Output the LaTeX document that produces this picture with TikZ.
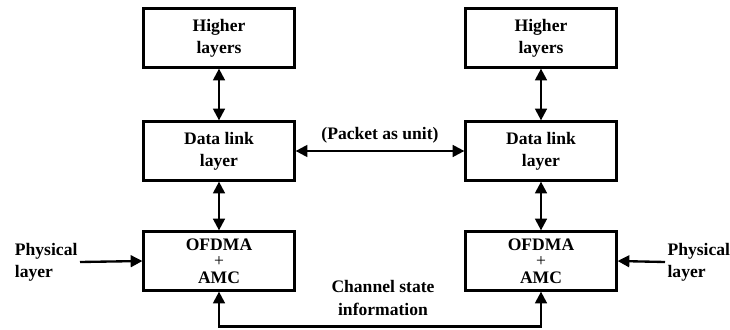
\documentclass[tikz,border=0pt]{standalone}
\usepackage{fontspec}
\setmainfont{Liberation Serif}
\usetikzlibrary{arrows.meta}

\begin{document}
\begin{tikzpicture}[x=0.03cm,y=0.03cm,
    layerbox/.style={draw,line width=2.2pt,minimum width=4.52cm,minimum height=1.76cm,align=center,font=\fontsize{15}{19}\selectfont\bfseries},
    txt/.style={align=center,font=\fontsize{15}{19}\selectfont\bfseries,inner sep=0pt},
    link/.style={line width=2pt,{Triangle[length=10pt,width=10pt]}-{Triangle[length=10pt,width=10pt]}},
    feed/.style={line width=2pt,-{Triangle[length=10pt,width=10pt]}}]
            \useasboundingbox (0,0) rectangle (730,329);
            % left station
            \node[layerbox] (hl1) at (219,291) {Higher\\layers};
            \node[layerbox] (dl1) at (219,178) {Data link\\layer};
            \node[layerbox] (of1) at (219,68) {OFDMA\\[-5pt]{\mdseries +}\\[-5pt]AMC};
            % right station
            \node[layerbox] (hl2) at (541,291) {Higher\\layers};
            \node[layerbox] (dl2) at (541,178) {Data link\\layer};
            \node[layerbox] (of2) at (541,68) {OFDMA\\[-5pt]{\mdseries +}\\[-5pt]AMC};
            % side labels
            \node[txt,align=left,anchor=east,inner sep=2pt] (ph1) at (80,67) {Physical\\layer};
            \node[txt,align=left,anchor=west,inner sep=2pt] (ph2) at (665,67) {Physical\\layer};
            \node[txt] (csi) at (383,31) {Channel state\\information};
            % connectors
            \draw[link] (hl1) -- (dl1);
            \draw[link] (dl1) -- (of1);
            \draw[link] (hl2) -- (dl2);
            \draw[link] (dl2) -- (of2);
            \draw[link] (dl1) -- node[txt,above=6pt] (pkt) {(Packet as unit)} (dl2);
            \draw[feed] (ph1.east) -- (of1.west);
            \draw[feed] (ph2.west) -- (of2.east);
            \draw[link] (of1.south) -- ++(0,-35) -| (of2.south);
\end{tikzpicture}
\end{document}
